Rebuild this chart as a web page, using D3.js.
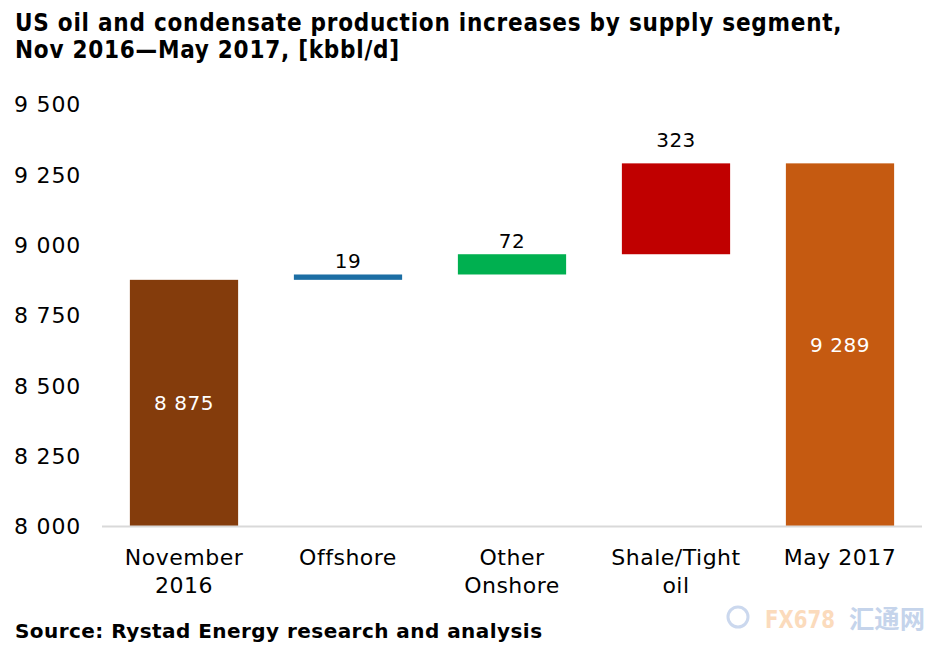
<!DOCTYPE html>
<html><head><meta charset="utf-8">
<script src="https://cdn.jsdelivr.net/npm/d3@7"></script>
<style>body{margin:0;background:#fff}svg{display:block}</style>
</head><body><svg id="c" width="945" height="655"></svg>
<script>
const categories = ["November\n2016", "Offshore", "Other\nOnshore", "Shale/Tight\noil", "May 2017"];
const kinds = ["total", "delta", "delta", "delta", "total"];
const values = [8875, 19, 72, 323, 9289];
const colors = ["#843C0C", "#1C6EA4", "#00B050", "#C00000", "#C55A11"];
const yTicks = [8000, 8250, 8500, 8750, 9000, 9250, 9500];
const titleLines = ["US oil and condensate production increases by supply segment,", "Nov 2016\u2014May 2017, [kbbl/d]"];
const source = "Source: Rystad Energy research and analysis";

const svg = d3.select("#c");
const font = "DejaVu Sans, Verdana, sans-serif";
const x = d3.scaleBand().domain(categories).range([102, 922]).paddingInner(0.34).paddingOuter(0.17);
const y = d3.scaleLinear().domain([8000, 9500]).range([526, 104]);
const fmt = v => d3.format(",")(v).replace(/,/g, " ");

// title
svg.append("g").selectAll("text").data(titleLines).join("text")
  .attr("x", 15).attr("y", (d, i) => 31 + i * 27)
  .attr("font-family", "DejaVu Sans Condensed, DejaVu Sans, sans-serif").attr("font-weight", "bold")
  .attr("font-size", 24).attr("letter-spacing", 0.75).attr("fill", "#000").text(d => d);

// y axis labels
const yAxis = d3.axisLeft(y).tickValues(yTicks).tickFormat(fmt).tickSize(0).tickPadding(0);
const ya = svg.append("g").attr("transform", "translate(81,0)").call(yAxis);
ya.select(".domain").remove();
ya.selectAll("text").attr("font-family", font).attr("font-size", 22).attr("letter-spacing", 0.8)
  .attr("fill", "#000").attr("dy", "0.35em");

// compute bars
let run = 0;
const bars = categories.map((c, i) => {
  let lo, hi;
  if (kinds[i] === "total") { lo = 8000; hi = values[i]; run = values[i]; }
  else { lo = run; hi = run + values[i]; run = hi; }
  return {c, lo, hi, v: values[i], kind: kinds[i], color: colors[i]};
});

svg.append("g").selectAll("rect").data(bars).join("rect")
  .attr("x", d => x(d.c)).attr("width", x.bandwidth())
  .attr("y", d => y(d.hi)).attr("height", d => y(d.lo) - y(d.hi))
  .attr("fill", d => d.color);

// x axis line
svg.append("line").attr("x1", 102).attr("x2", 922).attr("y1", y(8000) + 0.5).attr("y2", y(8000) + 0.5)
  .attr("stroke", "#D9D9D9").attr("stroke-width", 2);

// labels
svg.append("g").selectAll("text").data(bars).join("text")
  .attr("x", d => x(d.c) + x.bandwidth() / 2)
  .attr("y", d => d.kind === "total" ? (y(d.lo) + y(d.hi)) / 2 : y(d.hi) - (d.v > 200 ? 16 : 6))
  .attr("dy", d => d.kind === "total" ? "0.35em" : 0)
  .attr("text-anchor", "middle").attr("font-family", font).attr("font-size", 20).attr("letter-spacing", 0.5)
  .attr("fill", d => d.kind === "total" ? "#fff" : "#000").text(d => fmt(d.v));

// category labels
const cg = svg.append("g").selectAll("text").data(categories).join("text")
  .attr("x", d => x(d) + x.bandwidth() / 2).attr("y", 565)
  .attr("text-anchor", "middle").attr("font-family", font).attr("font-size", 22).attr("letter-spacing", 0.5).attr("fill", "#000");
cg.each(function(d) {
  d.split("\n").forEach((l, i) => d3.select(this).append("tspan")
    .attr("x", x(d) + x.bandwidth() / 2).attr("dy", i ? 28 : 0).text(l));
});

// source
svg.append("text").attr("x", 15).attr("y", 638).attr("font-family", font).attr("font-weight", "bold")
  .attr("font-size", 20).attr("letter-spacing", 0.45).attr("fill", "#000").text(source);

// watermark
const wm = svg.append("g").attr("opacity", 0.4);
wm.append("circle").attr("cx", 738).attr("cy", 617).attr("r", 10).attr("fill", "none").attr("stroke", "#7f9fd6").attr("stroke-width", 3);
wm.append("text").attr("x", 765).attr("y", 628).attr("font-family", "DejaVu Sans Condensed, sans-serif").attr("font-weight", "bold")
  .attr("font-size", 25).attr("textLength", 70).attr("lengthAdjust", "spacingAndGlyphs").attr("fill", "#f7a65a").text("FX678");
wm.append("text").attr("x", 849).attr("y", 628).attr("font-family", "Noto Sans CJK SC, sans-serif").attr("font-weight", "bold")
  .attr("font-size", 25).attr("textLength", 76).attr("lengthAdjust", "spacingAndGlyphs").attr("fill", "#6f95cf").text("汇通网");
</script></body></html>
